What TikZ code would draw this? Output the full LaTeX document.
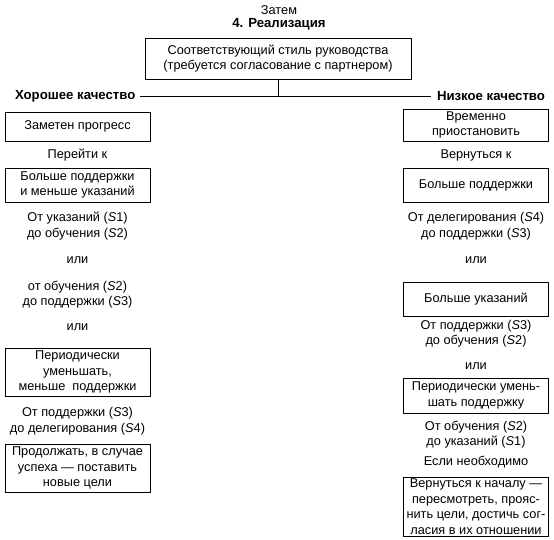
\documentclass[tikz,border=0pt]{standalone}
\usepackage{fontspec}
\setmainfont{Liberation Sans}
\begin{document}
\begin{tikzpicture}[x=1pt,y=-1pt,
  txt/.style={inner sep=0pt, align=center, font=\fontsize{12.75}{15.5}\selectfont},
  hdr/.style={txt, font=\bfseries\fontsize{13.2}{15.5}\selectfont},
  box/.style={txt, draw, line width=0.7pt, minimum width=145pt},
  lnk/.style={line width=0.6pt}]
\useasboundingbox (0,0) rectangle (554,540);
% title
\node[txt] (then) at (279,10) {Затем};
\node[hdr] (title) at (279,24) {4. Реализация};
\node[box, minimum width=266pt, minimum height=41pt] (top) at (278,58.5)
  {Соответствующий стиль руководства\\(требуется согласование с партнером)};
\node[hdr, anchor=west, outer sep=5pt] (good) at (10,96) {Хорошее качество};
\node[hdr, anchor=east, outer sep=6pt] (bad) at (551,96) {Низкое качество};
\draw[lnk] (good.east) -- (bad.west);
\draw[lnk] (top.south) -- (top.south |- good.east);
% left column
\node[box, minimum height=29pt] (lb1) at (77.5,126.5) {Заметен прогресс};
\node[txt] (lt1) at (77.5,155) {Перейти к};
\node[box, minimum height=34pt] (lb2) at (77.5,185) {Больше поддержки\\и меньше указаний};
\node[txt] (lt2) at (77.5,226) {От указаний (\textit{S}1)\\до обучения (\textit{S}2)};
\node[txt] (lt3) at (77.5,260) {или};
\node[txt] (lt4) at (77.5,294.5) {от обучения (\textit{S}2)\\до поддержки (\textit{S}3)};
\node[txt] (lt5) at (77.5,327) {или};
\node[box, minimum height=48pt] (lb3) at (77.5,372) {Периодически\\уменьшать,\\меньше\ \ поддержки};
\node[txt] (lt6) at (77.5,421) {От поддержки (\textit{S}3)\\до делегирования (\textit{S}4)};
\node[box, minimum height=48pt] (lb4) at (77.5,468) {Продолжать, в случае\\успеха — поставить\\новые цели};
% right column
\node[box, minimum height=32pt] (rb1) at (476,125) {Временно\\приостановить};
\node[txt] (rt1) at (476,155) {Вернуться к};
\node[box, minimum height=34pt] (rb2) at (476,185) {Больше поддержки};
\node[txt] (rt2) at (476,226) {От делегирования (\textit{S}4)\\до поддержки (\textit{S}3)};
\node[txt] (rt3) at (476,260) {или};
\node[box, minimum height=34pt] (rb3) at (476,299) {Больше указаний};
\node[txt] (rt4) at (476,333.5) {От поддержки (\textit{S}3)\\до обучения (\textit{S}2)};
\node[txt] (rt5) at (476,366) {или};
\node[box, minimum height=35pt] (rb4) at (476,395.5) {Периодически умень-\\шать поддержку};
\node[txt] (rt6) at (476,434.5) {От обучения (\textit{S}2)\\до указаний (\textit{S}1)};
\node[txt] (rt7) at (476,462) {Если необходимо};
\node[box, minimum height=59pt] (rb5) at (476,506.5) {Вернуться к началу —\\пересмотреть, прояс-\\нить цели, достичь сог-\\ласия в их отношении};
\end{tikzpicture}
\end{document}
